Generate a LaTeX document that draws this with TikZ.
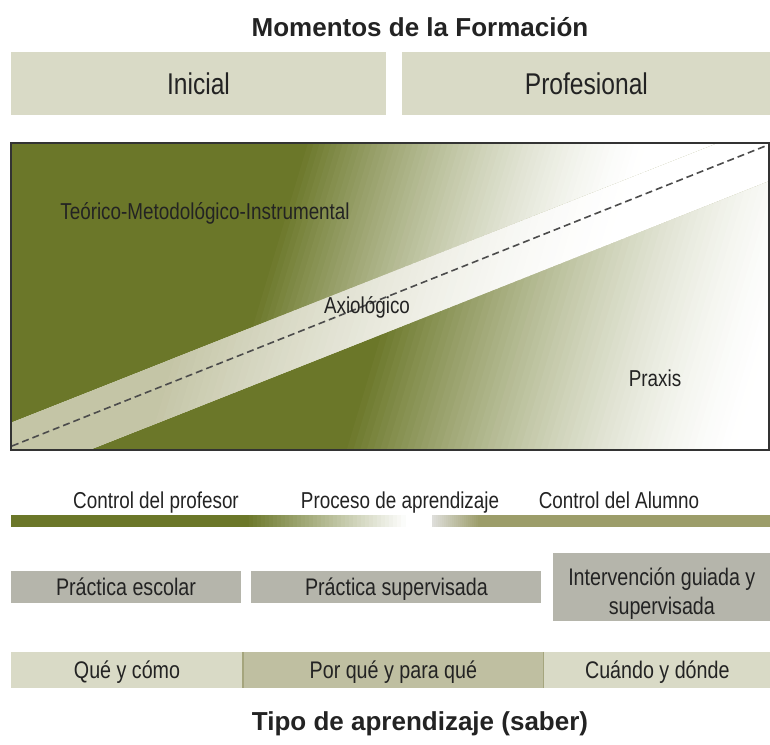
\documentclass[tikz,border=0pt]{standalone}
\usepackage{fontspec}
\setmainfont{Liberation Sans}
\newfontfamily\narrowfont[FakeStretch=0.82]{Liberation Sans}
\usetikzlibrary{positioning}
\definecolor{olv}{RGB}{107,119,41}
\definecolor{olvpale}{RGB}{156,157,106}
\definecolor{beige}{RGB}{217,218,198}
\definecolor{greybox}{RGB}{181,181,171}
\definecolor{khaki}{RGB}{191,191,161}
\definecolor{khakiedge}{RGB}{165,165,125}
\definecolor{bandl}{RGB}{196,197,166}
\definecolor{barlight}{RGB}{222,222,218}
\definecolor{ink}{RGB}{35,35,35}

\begin{document}
\begin{tikzpicture}[x=1pt,y=-1pt,
  every node/.style={text=ink,inner sep=0pt,text depth=0pt},
  headline/.style={font=\fontsize{26}{30}\selectfont\bfseries,text height=18.6pt},
  momento/.style={fill=beige,minimum height=63pt,text height=21.5pt,
                  font=\narrowfont\fontsize{30}{34}\selectfont},
  lbl/.style={font=\narrowfont\fontsize{23}{27}\selectfont,text height=16.5pt},
  practica/.style={fill=greybox,minimum height=32pt,align=center,text height=17.2pt,
                   font=\narrowfont\fontsize{24}{29}\selectfont},
  saber/.style={fill=beige,minimum height=36pt,text height=17.2pt,
                font=\narrowfont\fontsize{24}{28}\selectfont},
  dashline/.style={draw=black!70,line width=1.6pt,dash pattern=on 7pt off 4pt}]
\useasboundingbox (0,0) rectangle (770,744);

% momentos
\node[headline] (titulo) at (420,27) {Momentos de la Formación};
\node[momento,minimum width=375pt] (ini) at (198.5,83.5) {Inicial};
\node[momento,minimum width=368pt,right=16pt of ini] (prof) {Profesional};

% upper region: teorico
\begin{scope}
  \clip (11,143) -- (718,143) -- (11,422.7) -- cycle;
  \fill[olv] (11,143) rectangle (769,450);
  \foreach \i in {0,...,59} {
    \pgfmathsetmacro\shadepct{100*(1-\i/59)^1.5}
    \fill[olv!\shadepct!white] ({210+5.83*\i},450) -- ++(6.8,0) -- ++(92.1,-307) -- ++(-6.8,0) -- cycle;
  }
  \fill[white] (560,450) -- (1000,450) -- (1000,143) -- (652,143) -- cycle;
\end{scope}
% lower region: praxis
\begin{scope}
  \clip (89.4,450) -- (769,180.9) -- (769,450) -- cycle;
  \fill[olv] (11,143) rectangle (769,450);
  \foreach \i in {0,...,59} {
    \pgfmathsetmacro\shadepct{100*(1-\i/59)^1.5}
    \fill[olv!\shadepct!white] ({340+6.67*\i},450) -- ++(7.6,0) -- ++(92.1,-307) -- ++(-7.6,0) -- cycle;
  }
  \fill[white] (740,450) -- (1000,450) -- (1000,143) -- (832,143) -- cycle;
\end{scope}
% band: axiologico
\begin{scope}
  \clip (11,422.7) -- (718,143) -- (769,143) -- (769,180.9) -- (89.4,450) -- (11,450) -- cycle;
  \fill[bandl] (11,143) rectangle (769,450);
  \foreach \i in {0,...,59} {
    \pgfmathsetmacro\shadepct{100*(1-\i/59)^1.5}
    \fill[bandl!\shadepct!white] ({140+7*\i},450) -- ++(8,0) -- ++(92.1,-307) -- ++(-8,0) -- cycle;
  }
  \fill[white] (560,450) -- (1000,450) -- (1000,143) -- (652,143) -- cycle;
\end{scope}
\coordinate (dl) at (12,446);
\coordinate (dr) at (768,145);
\draw[dashline] (dl) -- (dr);
\draw[draw=black!80,line width=1.5pt] (11,143) rectangle (769,450);
\node[lbl] (teo) at (205,211) {Teórico-Metodológico-Instrumental};
\node[lbl] (axio) at (367,305) {Axiológico};
\node[lbl] (praxis) at (655,378) {Praxis};

% control bar
\fill[olv] (11,515) rectangle (246,527);
\foreach \i in {0,...,39} {
  \pgfmathsetmacro\shadepct{100-2.5*\i}
  \fill[olv!\shadepct!white] ({245+4*\i},515) rectangle ++(4.5,12);
}
\foreach \i in {0,...,23} {
  \pgfmathsetmacro\shadepct{100*\i/23}
  \fill[olvpale!\shadepct!barlight] ({432+2*\i},515) rectangle ++(2.5,12);
}
\fill[olvpale] (479,515) rectangle (770,527);
\node[lbl] (cprof) at (156,500) {Control del profesor};
\node[lbl] (proc) at (400,500) {Proceso de aprendizaje};
\node[lbl] (calum) at (619,500) {Control del Alumno};

% practicas
\node[practica,minimum width=230pt] (pesc) at (126,587) {Práctica escolar};
\node[practica,minimum width=290pt,right=10pt of pesc] (psup) {Práctica supervisada};
\node[practica,minimum width=218pt,minimum height=68pt,text height=46.2pt,right=11pt of psup] (interv) {};
\node[practica,fill=none,align=center,text height=46.2pt] (intervtxt) at ([yshift=-4pt]interv.center) {Intervención guiada y\\supervisada};

% saberes
\node[saber,minimum width=232pt] (que) at (127,670) {Qué y cómo};
\node[saber,fill=khaki,minimum width=300pt,right=0pt of que] (porque) {Por qué y para qué};
\node[saber,minimum width=227pt,right=0pt of porque] (cuando) {Cuándo y dónde};
\draw[khakiedge,line width=1.5pt] (porque.north west) -- (porque.south west)
  (porque.north east) -- (porque.south east);
\node[headline] (tipo) at (420,721) {Tipo de aprendizaje (saber)};
\end{tikzpicture}
\end{document}
